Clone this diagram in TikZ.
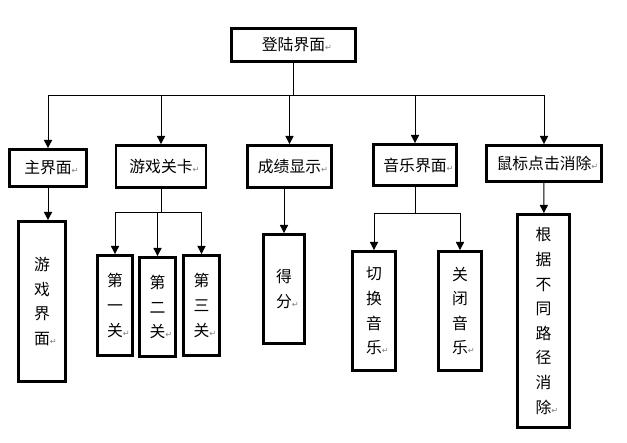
\documentclass[tikz,border=0pt]{standalone}
\usepackage{fontspec}
\usepackage{xcolor}
\usepackage{tikz}
\usetikzlibrary{arrows.meta, positioning}
\newfontfamily\cjk{Noto Sans CJK SC}
\newfontfamily\symf{DejaVu Sans}
\newcommand\rmk{\rlap{\textcolor{gray}{\symf\fontsize{7}{7}\selectfont ↵}}}

\tikzset{
  box/.style={draw, line width=2.4pt, inner sep=0pt, align=center,
    font=\cjk\fontsize{13.5}{21}\selectfont},
  sz/.style 2 args={minimum width=#1*0.03cm, minimum height=#2*0.03cm},
  link/.style={line width=0.8pt}
}

\begin{document}
\begin{tikzpicture}[x=0.03cm, y=-0.03cm, >={Triangle[length=7pt,width=7pt]}, link]
    \useasboundingbox (0,0) rectangle (627,442);
    % top row
    \node [box, sz={124}{33}] (login) at (293.5,45) {登陆界面\rmk};
    \node [box, sz={77}{37}] (main) at (48,168) {主界面\rmk};
    \node [box, sz={90}{42}] (game) at (161,166.5) {游戏关卡\rmk};
    \node [box, sz={84}{42}] (score) at (289.5,166.5) {成绩显示\rmk};
    \node [box, sz={83}{41}] (music) at (415,165) {音乐界面\rmk};
    \node [box, sz={115}{36}] (mouse) at (544,163.5) {鼠标点击消除\rmk};
    % bottom row
    \node [box, sz={47}{160}] (gamescr) at (42,301.5) {游\\戏\\界\\面\rmk};
    \node [box, sz={35}{100}] (lv1) at (115,305.5) {第\\一\\关\rmk};
    \node [box, sz={36}{99}] (lv2) at (157.5,307) {第\\二\\关\rmk};
    \node [box, sz={36}{100}] (lv3) at (201.5,305.5) {第\\三\\关\rmk};
    \node [box, sz={41}{109}] (fen) at (284,289) {得\\分\rmk};
    \node [box, sz={43}{119}] (qh) at (374,311) {切\\换\\音\\乐\rmk};
    \node [box, sz={43}{119}] (gb) at (460,311) {关\\闭\\音\\乐\rmk};
    \node [box, sz={52}{213}] (route) at (543.5,321) {根\\据\\不\\同\\路\\径\\消\\除\rmk};

    % connectors
    \coordinate (bus) at (0,95);
    \coordinate (gbus) at (0,212);
    \coordinate (mbus) at (0,213);
    \draw (login) -- (login |- bus);
    \draw (main |- bus) -- (mouse |- bus);
    \foreach \n in {main,game,score,music,mouse}
        \draw [->] (\n |- bus) -- (\n);
    \draw [->] (main) -- (main |- gamescr.north);
    \draw (game) -- (game |- gbus);
    \draw (lv1 |- gbus) -- (lv3 |- gbus);
    \foreach \n in {lv1,lv2,lv3}
        \draw [->] (\n |- gbus) -- (\n);
    \draw [->] (fen |- score.south) -- (fen);
    \draw (music) -- (music |- mbus);
    \draw (qh |- mbus) -- (gb |- mbus);
    \foreach \n in {qh,gb}
        \draw [->] (\n |- mbus) -- (\n);
    \draw [->] (mouse) -- (route);
\end{tikzpicture}
\end{document}
